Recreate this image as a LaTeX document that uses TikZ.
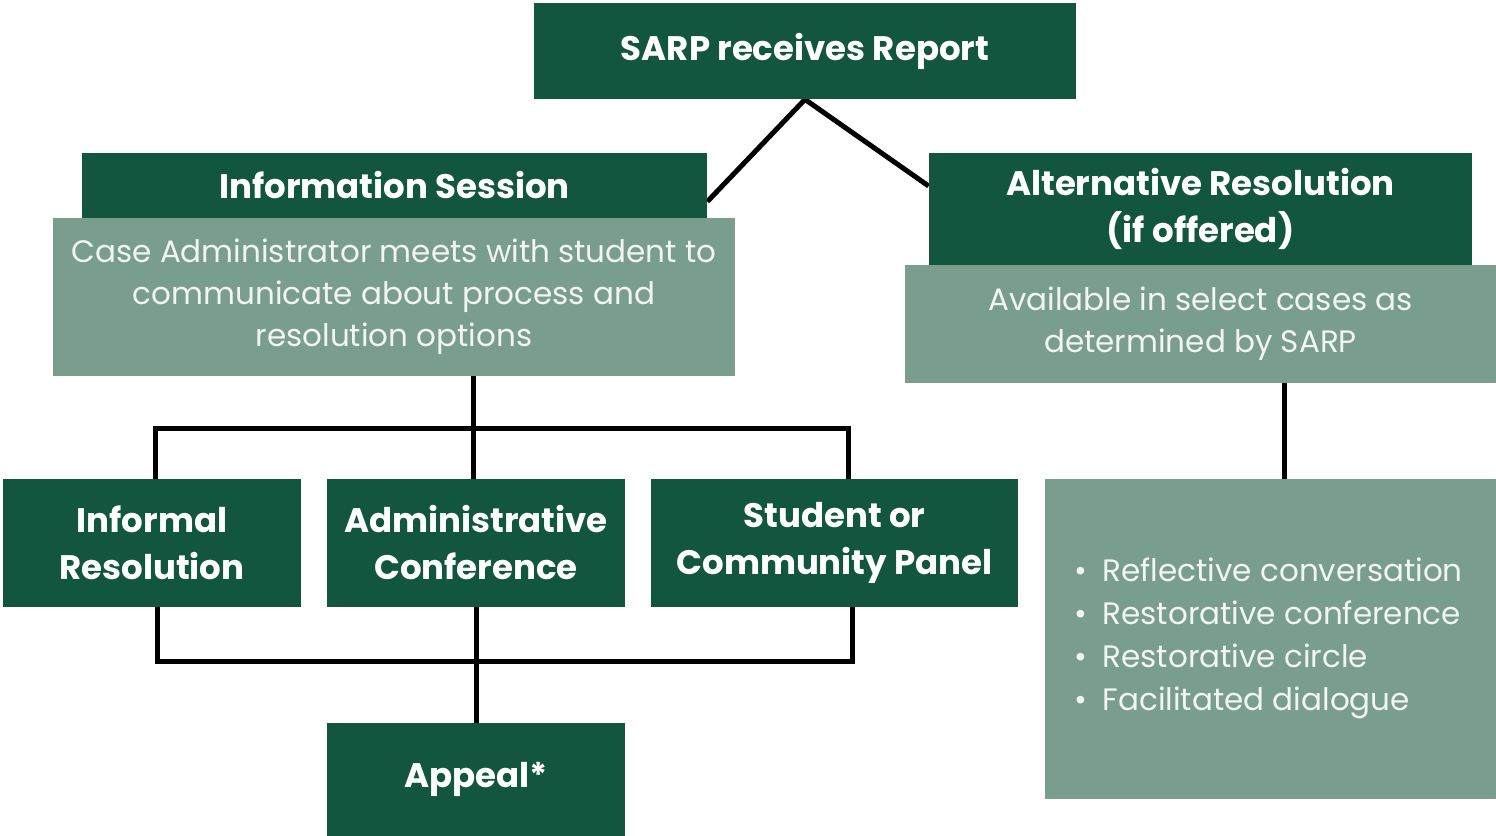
\documentclass[tikz,border=0pt]{standalone}
\usepackage{fontspec}
\setmainfont{Poppins}
\usetikzlibrary{positioning,calc}
\pgfdeclarelayer{background}
\pgfsetlayers{background,main}
\definecolor{sarpdark}{HTML}{135640}
\definecolor{sarplight}{HTML}{7A9E8E}
\definecolor{sarptext}{HTML}{F2F5F0}
\tikzset{
  darkbox/.style={fill=sarpdark, text=white, inner sep=0pt, align=center,
    font=\bfseries\fontsize{17}{23.5}\selectfont},
  lightbox/.style={fill=sarplight, text=sarptext, inner sep=0pt, align=center,
    font=\fontsize{15.5}{21}\selectfont},
  link/.style={line width=2.5pt, black}
}

\begin{document}
\begin{tikzpicture}[x=0.5pt, y=-0.5pt]
        \useasboundingbox (0,0) rectangle (1496,836);
        \node [darkbox, minimum width=271pt, minimum height=48pt] (report) at (805,51) {SARP receives Report};
        \node [darkbox, minimum width=312.5pt, minimum height=32.5pt] (infohead) at (394.5,185.5) {Information Session};
        \node [lightbox, minimum width=341pt, minimum height=79pt] (infobody) at (394,297) {Case Administrator meets with student to\\communicate about process and\\resolution options};
        \node [darkbox, minimum width=271.5pt, minimum height=56pt] (althead) at (1200.5,209) {Alternative Resolution\\(if offered)};
        \node [lightbox, minimum width=295.5pt, minimum height=59pt] (altbody) at (1200.5,324) {Available in select cases as\\determined by SARP};
        \node [darkbox, minimum width=149pt, minimum height=64pt] (informal) at (152,543) {Informal\\Resolution};
        \node [darkbox, minimum width=149pt, minimum height=64pt] (admin) at (476,543) {Administrative\\Conference};
        \node [darkbox, minimum width=183.5pt, minimum height=64pt] (panel) at (834.5,543) {Student or\\Community Panel};
        \node [darkbox, minimum width=149pt, minimum height=56.5pt] (appeal) at (476,779.5) {Appeal*};
        \node [lightbox, minimum width=225.5pt, minimum height=160pt] (options) at (1270.5,639) {};
        \node [lightbox, align=left, anchor=west, font=\fontsize{15.5}{21.5}\selectfont] (optlist) at (1074,638)
          {•\hspace{0.5em}Reflective conversation\\•\hspace{0.5em}Restorative conference\\•\hspace{0.5em}Restorative circle\\•\hspace{0.5em}Facilitated dialogue};
        \coordinate (topbar) at (473,428);
        \coordinate (botbar) at (475,661);
        % connectors behind the boxes
        \begin{pgfonlayer}{background}
        \draw [link] (report.south) -- ([yshift=-8pt]infohead.east);
        \draw [link] (report.south) -- ([yshift=11.5pt]althead.west);
        \draw [link] (infobody.south -| topbar) -- (admin.north -| topbar);
        \draw [link] ([xshift=1.5pt]informal.north) |- (topbar) -| ([xshift=7pt]panel.north);
        \draw [link] ([xshift=2.5pt]informal.south) |- (botbar) -| ([xshift=9pt]panel.south);
        \draw [link] (admin.south) -- (appeal.north);
        \draw [link] (altbody.south -| 1284,0) -- (options.north -| 1284,0);
        \end{pgfonlayer}
\end{tikzpicture}
\end{document}
